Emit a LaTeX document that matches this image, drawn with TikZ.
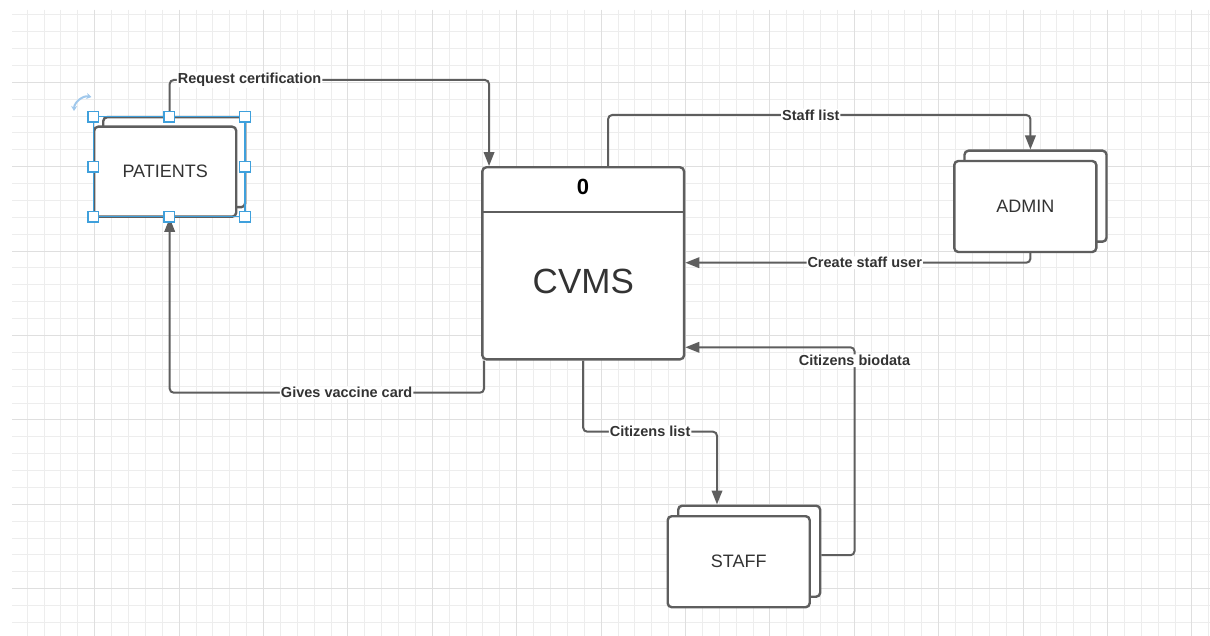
\documentclass[tikz,border=0pt]{standalone}
\usepackage{fontspec}
\setmainfont{Liberation Sans}
\usetikzlibrary{arrows.meta,calc}
\definecolor{linegray}{HTML}{5E5E5E}
\definecolor{txtgray}{HTML}{333333}
\definecolor{gridminor}{HTML}{EDEDED}
\definecolor{gridmajor}{HTML}{DFDFDF}
\definecolor{selblue}{HTML}{3FA0DC}
\definecolor{rotblue}{HTML}{A0C8EC}
\begin{document}
\begin{tikzpicture}[x=1pt,y=-1pt,
  entity/.style={draw=linegray, line width=2.4pt, rounded corners=4pt, fill=white,
    minimum width=142pt, minimum height=91pt, inner sep=0pt,
    font=\fontsize{18}{20}\selectfont, text=txtgray},
  procbox/.style={draw=linegray, line width=2.4pt, rounded corners=4pt, fill=white,
    minimum width=201.7pt, minimum height=192pt, inner sep=0pt},
  flow/.style={draw=linegray, line width=2pt, rounded corners=4pt,
    -{Triangle[length=14pt,width=10.5pt]}},
  lab/.style={fill=white, inner sep=1pt, font=\bfseries\fontsize{14.5}{16}\selectfont, text=txtgray},
  handle/.style={draw=selblue, fill=white, line width=1.3pt, minimum size=10.5pt, inner sep=0pt},
]
% background and grid
\fill[white] (0,0) rectangle (1210,636);
\useasboundingbox (0,0) rectangle (1210,636);
\foreach \k in {0,...,70}{
  \pgfmathsetmacro\gx{27.2+16.88*\k}
  \draw[gridminor, line width=1pt] (\gx,10) -- (\gx,636);
}
\foreach \k in {0,...,36}{
  \pgfmathsetmacro\gy{14.8+16.88*\k}
  \draw[gridminor, line width=1pt] (12,\gy) -- (1210,\gy);
}
\foreach \k in {4,9,...,69}{
  \pgfmathsetmacro\gx{27.2+16.88*\k}
  \draw[gridmajor, line width=1pt] (\gx,10) -- (\gx,636);
}
\foreach \k in {4,9,...,34}{
  \pgfmathsetmacro\gy{14.8+16.88*\k}
  \draw[gridmajor, line width=1pt] (12,\gy) -- (1210,\gy);
}

% external entities
\node[entity, minimum height=90pt] (patientsback) at (174.2,162.2) {};
\node[entity, minimum height=90pt] (patients) at (165.2,171.7) {PATIENTS};
\node[entity] (adminback) at (1035.5,196.2) {};
\node[entity] (admin) at (1025.3,206.5) {ADMIN};
\node[entity] (staffback) at (749.2,551.2) {};
\node[entity] (staff) at (738.7,561.7) {STAFF};

% process
\node[procbox] (cvms) at (583.2,263.3) {};
\draw[linegray, line width=2.4pt] (cvms.west |- 0,212.3) -- (cvms.east |- 0,212.3);
\node[font=\bfseries\fontsize{22}{24}\selectfont, text=black] (zero) at (583,187) {0};
\node[font=\fontsize{35}{40}\selectfont, text=txtgray] (cvmslabel) at (583.3,281.7) {CVMS};

% helper coordinates
\coordinate (reqx) at ($(patients.north)!0.5!(patientsback.north)$);
\coordinate (reqend) at ($(cvms.north west)+(7.9,0)$);
\coordinate (slstart) at ($(cvms.north west)+(127,0)$);
\coordinate (admmid) at ($(admin.center)!0.5!(adminback.center)$);
\coordinate (gvstart) at ($(cvms.south west)+(2.9,0)$);
\coordinate (clend) at ($(staffback.north west)+(40,0)$);
\coordinate (cbstart) at ($(staffback.east)+(0,4)$);

% data flows
\draw[flow] (reqx |- patientsback.north) -- (reqx |- 0,80)
  -- node[lab,pos=0.25]{Request certification} (reqend |- 0,80) -- (reqend);
\draw[flow] (slstart) -- (slstart |- 0,115)
  -- node[lab,pos=0.48]{Staff list} (admmid |- 0,115) -- (admmid |- adminback.north);
\draw[flow] (admmid |- admin.south) -- (admmid |- 0,262.7)
  -- node[lab,pos=0.48]{Create staff user} (cvms.east |- 0,262.7);
\draw[flow] (gvstart) -- (gvstart |- 0,392.7)
  -- node[lab,pos=0.437]{Gives vaccine card} (reqx |- 0,392.7) -- (reqx |- patients.south);
\draw[flow] (cvms.south) -- (cvms.south |- 0,431.7)
  -- node[lab,pos=0.5]{Citizens list} (clend |- 0,431.7) -- (clend);
\draw[flow] (cbstart) -- (854.5,0 |- cbstart)
  -- node[lab,pos=0.935]{Citizens biodata} (854.5,347.3) -- (cvms.east |- 0,347.3);

% selection decoration
\draw[selblue, line width=1.3pt] (93.3,116.7) rectangle (245,216.7);
\foreach \hx/\hy [count=\i] in {93.3/116.7,169.2/116.7,245/116.7,93.3/166.7,245/166.7,93.3/216.7,169.2/216.7,245/216.7}{
  \node[handle] (h\i) at (\hx,\hy) {};
}
\draw[rotblue, line width=2pt, {Stealth[length=5pt,width=6pt]}-{Stealth[length=5pt,width=6pt]}]
  (74,111) to[bend left=50] (91.5,97);
\end{tikzpicture}
\end{document}
